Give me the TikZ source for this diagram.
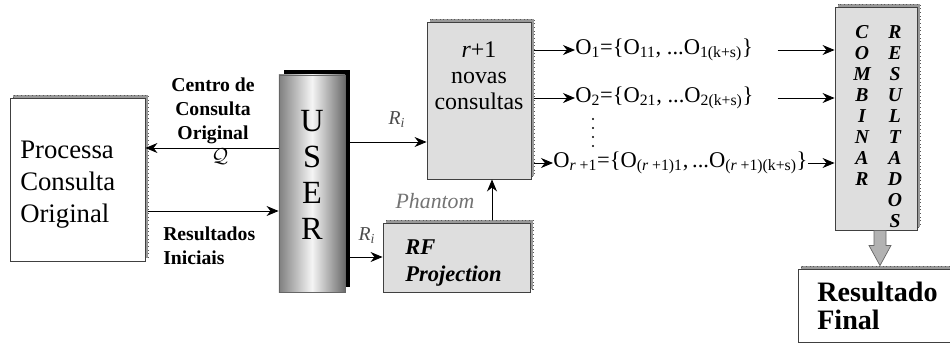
\documentclass[tikz,border=0pt]{standalone}
\usepackage{fontspec}
\setmainfont{Liberation Serif}
\usetikzlibrary{arrows.meta, positioning, calc, shadows}

\tikzset{
  box/.style={draw=black!75, line width=0.6pt, inner sep=0pt},
  greybox/.style={box, fill=black!13},
  grain/.style={copy shadow={shadow xshift=0.075cm, shadow yshift=0.075cm,
      fill=black!40, draw=black!65, dotted}},
  txt/.style={inner sep=0pt},
  arr/.style={line width=0.6pt, -{Stealth[length=3mm, width=2.5mm]}},
  lbl/.style={font=\fontsize{14}{17}\selectfont\bfseries, align=center},
  cmb/.style={font=\fontsize{14}{15}\selectfont\bfseries\itshape},
  otxt/.style={font=\fontsize{16}{18}\selectfont},
}

\begin{document}
\begin{tikzpicture}[x=0.025cm, y=-0.025cm]
\useasboundingbox (0,0) rectangle (950,344);

% Boxes
\node[box, fill=white, grain, minimum width=3.375cm, minimum height=4.075cm]
  (proc) at (77.5,179.5) {};
\node[box, draw=black!60, left color=black!50, right color=black!58,
  middle color=black!4, minimum width=1.65cm, minimum height=5.425cm,
  copy shadow={shadow xshift=0.125cm, shadow yshift=0.125cm, fill=black, draw=none}]
  (user) at (312,183.5) {};
\node[greybox, grain, minimum width=2.6cm, minimum height=3.925cm] (nov) at (479,100.5) {};
\node[greybox, grain, minimum width=3.675cm, minimum height=1.725cm] (rf) at (456.5,257.5) {};
\node[greybox, grain, minimum width=2.05cm, minimum height=5.575cm] (comb) at (876,118.5) {};
\node[box, fill=white, grain, minimum width=4.05cm, minimum height=1.825cm] (res) at (879,305.5) {};

% Texts inside
\node[txt, font=\fontsize{19}{22.7}\selectfont, align=left, anchor=west]
  (proct) at (20,185) {Processa\\Consulta\\Original};
\node[txt, font=\fontsize{23}{25.5}\selectfont, align=center]
  (usert) at (312,175) {U\\S\\E\\R};
\node[txt, font=\fontsize{17}{18.5}\selectfont, align=center]
  (novt) at (479,76) {\textit{r}+1\\novas\\consultas};
\node[txt, font=\fontsize{16}{19}\selectfont\bfseries\itshape, align=left, anchor=west]
  (rft) at (405,263) {RF\\Projection};
\node[txt, font=\fontsize{20}{20}\selectfont\bfseries, align=left, anchor=west]
  (rest) at (817,306) {Resultado\\Final};
\foreach \l [count=\i] in {C,O,M,B,I,N,A,R}
  \node[txt, cmb] (cl\i) at (862,{32+21*(\i-1)}) {\l};
\foreach \l [count=\i] in {R,E,S,U,L,T,A,D,O,S}
  \node[txt, cmb] (cr\i) at (895,{32+21*(\i-1)}) {\l};

% Labels
\node[txt, lbl] (cen) at (213,111) {Centro de\\Consulta\\Original};
\node[txt, font=\fontsize{15}{16}\selectfont] (q) at (220,157) {$\mathcal{Q}$};
\node[txt, lbl, align=left, anchor=west] (resi) at (163,246) {Resultados\\Iniciais};
\node[txt, font=\fontsize{14}{16}\selectfont, text=black!70]
  (ri1) at (397,120) {\textit{R}\textsubscript{\textit{i}}};
\node[txt, font=\fontsize{14}{16}\selectfont, text=black!70]
  (ri2) at (367,236) {\textit{R}\textsubscript{\textit{i}}};
\node[txt, font=\fontsize{15.5}{18}\selectfont\itshape, text=black!55]
  (ph) at (435,201) {Phantom};

% New queries
\node[txt, otxt, anchor=west] (o1) at (575,50)
  {O\textsubscript{1}=\{O\textsubscript{11}, ...O\textsubscript{1(k+s)}\}};
\node[txt, otxt, anchor=west] (o2) at (575,98)
  {O\textsubscript{2}=\{O\textsubscript{21}, ...O\textsubscript{2(k+s)}\}};
\node[txt, otxt, anchor=west] (o3) at (553,163)
  {O\textsubscript{\textit{r} +1}=\{O\textsubscript{(\textit{r} +1)1},\,...O\textsubscript{(\textit{r} +1)(k+s)}\}};
\foreach \y in {119,128,137,146}
  \fill (593,\y) circle (1.1);

% Connectors
\draw[arr] ($(user.west)+(0,-35.5)$) coordinate (a) -- (a -| proc.east);
\draw[arr] ($(proc.east)+(3,31.5)$) coordinate (b) -- (b -| user.west);
\draw[arr] ($(user.east)+(5,-41.5)$) coordinate (c) -- (c -| nov.west);
\draw[arr] ($(user.east)+(5,73.5)$) coordinate (d) -- (d -| rf.west);
\draw[arr] ($(rf.north)+(35.5,-3)$) coordinate (e) -- (e |- nov.south);
\draw[arr] ($(nov.east |- o1.west)+(3,0)$) -- (o1.west);
\draw[arr] ($(nov.east |- o2.west)+(3,0)$) -- (o2.west);
\draw[arr] ($(nov.east |- o3.west)+(3,0)$) -- (o3.west);
\draw[arr] ($(comb.west |- o1.west)+(-57,0)$) -- (comb.west |- o1.west);
\draw[arr] ($(comb.west |- o2.west)+(-57,0)$) -- (comb.west |- o2.west);
\draw[arr] (o3.east) -- (comb.west |- o3.east);

% Block arrow to final result
\coordinate (bt) at ($(comb.south)+(4,0)$);
\draw[draw=black!60, fill=black!30, line width=0.5pt]
  ($(bt)+(-6,0)$) -- ++(0,15) -- ++(-5,0) -- ($(bt |- res.north)+(0,-3)$)
  -- ($(bt)+(11,15)$) -- ++(-5,0) -- ++(0,-15) -- cycle;
\end{tikzpicture}
\end{document}
